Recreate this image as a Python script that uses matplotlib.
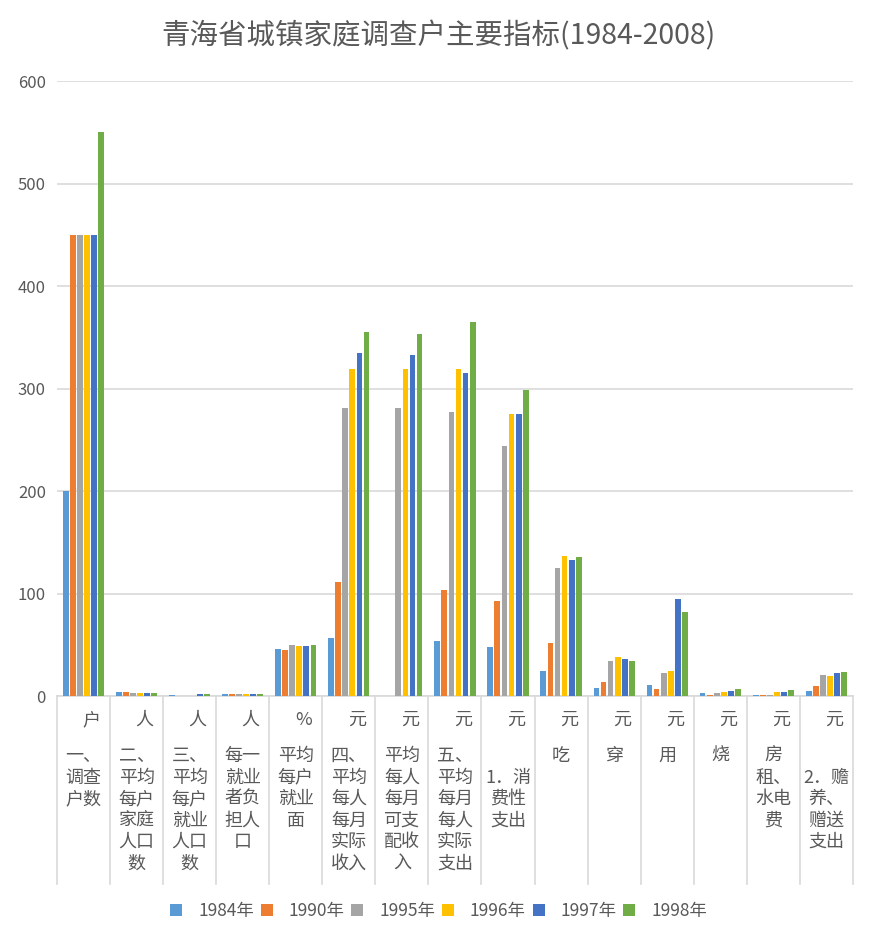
import numpy as np
import matplotlib
matplotlib.use("Agg")
import matplotlib.pyplot as plt
from matplotlib.lines import Line2D

plt.rcParams['font.family'] = ['Noto Sans CJK SC', 'DejaVu Sans']

# data
units = ["户", "人", "人", "人", "%", "元", "元", "元", "元", "元", "元", "元", "元", "元", "元"]
categories = [
    "一、\n调查\n户数",
    "二、\n平均\n每户\n家庭\n人口\n数",
    "三、\n平均\n每户\n就业\n人口\n数",
    "每一\n就业\n者负\n担人\n口",
    "平均\n每户\n就业\n面",
    "四、\n平均\n每人\n每月\n实际\n收入",
    "平均\n每人\n每月\n可支\n配收\n入",
    "五、\n平均\n每月\n每人\n实际\n支出",
    "\n1．消\n费性\n支出",
    "吃",
    "穿",
    "用",
    "烧",
    "房\n租、\n水电\n费",
    "\n2．赡\n养、\n赠送\n支出",
]
years = ["1984年", "1990年", "1995年", "1996年", "1997年", "1998年"]
v1984 = [200, 3.8, 1.5, 1.9, 45.9, 56.6, 0, 54, 47.8, 24.7, 7.8, 10.7, 2.6, 1.0, 4.9]
v1990 = [450, 3.6, 0, 1.9, 45.0, 111, 0, 103.4, 92.7, 51.7, 13.7, 6.8, 1.5, 1.0, 9.8]
v1995 = [450, 3.1, 0, 1.9, 49.8, 280.7, 280.7, 277, 244, 125, 34, 22.4, 2.5, 1.5, 20.5]
v1996 = [450, 3.0, 0, 1.9, 49.0, 319, 319, 319, 275, 136.6, 38.4, 24.4, 3.9, 3.9, 19.5]
v1997 = [450, 3.2, 1.9, 1.9, 48.8, 334.6, 332.7, 315, 275, 132.7, 36, 94.6, 4.9, 3.9, 22.4]
v1998 = [550, 3.1, 1.9, 1.9, 50.0, 355, 353, 365, 298.5, 135.6, 34, 82, 6.8, 5.8, 23.4]
series = [v1984, v1990, v1995, v1996, v1997, v1998]
colors = ["#5B9BD5", "#ED7D31", "#A5A5A5", "#FFC000", "#4472C4", "#70AD47"]

fig = plt.figure(figsize=(8.77, 9.42), dpi=100)
ax = fig.add_axes([0.065, 0.2611, 0.9075, 0.6529])

n = len(categories)
x = np.arange(n)
slot = 0.8 / len(series)
for i, vals in enumerate(series):
    ax.bar(x - 0.4 + slot * (i + 0.5), vals, width=slot * 0.82,
           color=colors[i], label=years[i], zorder=3)

ax.set_xlim(-0.5, n - 0.5)
ax.set_ylim(0, 600)
ax.set_yticks(np.arange(0, 601, 100))
ax.yaxis.grid(True, color="#D9D9D9", linewidth=1.2, zorder=0)
ax.set_xticks([])
for s in ["top", "right", "left"]:
    ax.spines[s].set_visible(False)
ax.spines["bottom"].set_color("#D9D9D9")
ax.spines["bottom"].set_linewidth(1.2)
ax.tick_params(axis="y", length=0, labelsize=12, labelcolor="#595959", pad=8)

# two-level category labels
tr = ax.get_xaxis_transform()
for i in range(n):
    ax.text(x[i] + 0.15, -0.039, units[i], transform=tr, ha="center", va="center",
            fontsize=13, color="#595959")
    ax.text(x[i], -0.083, categories[i], transform=tr, ha="center", va="top",
            fontsize=13, color="#595959", multialignment="center", linespacing=1.25)
for b in np.arange(-0.5, n, 1.0):
    ax.add_line(Line2D([b, b], [0, -0.306], transform=tr, color="#D9D9D9",
                       linewidth=1.2, clip_on=False))

fig.suptitle("青海省城镇家庭调查户主要指标(1984-2008)", y=0.978, fontsize=20.5, color="#595959")

fig.legend(loc="center", bbox_to_anchor=(0.5, 0.033), ncol=6, frameon=False,
           fontsize=12.5, labelcolor="#595959", handlelength=0.7, handleheight=0.7,
           handletextpad=0.9, columnspacing=0.4)

fig.savefig("out.png", dpi=100)
